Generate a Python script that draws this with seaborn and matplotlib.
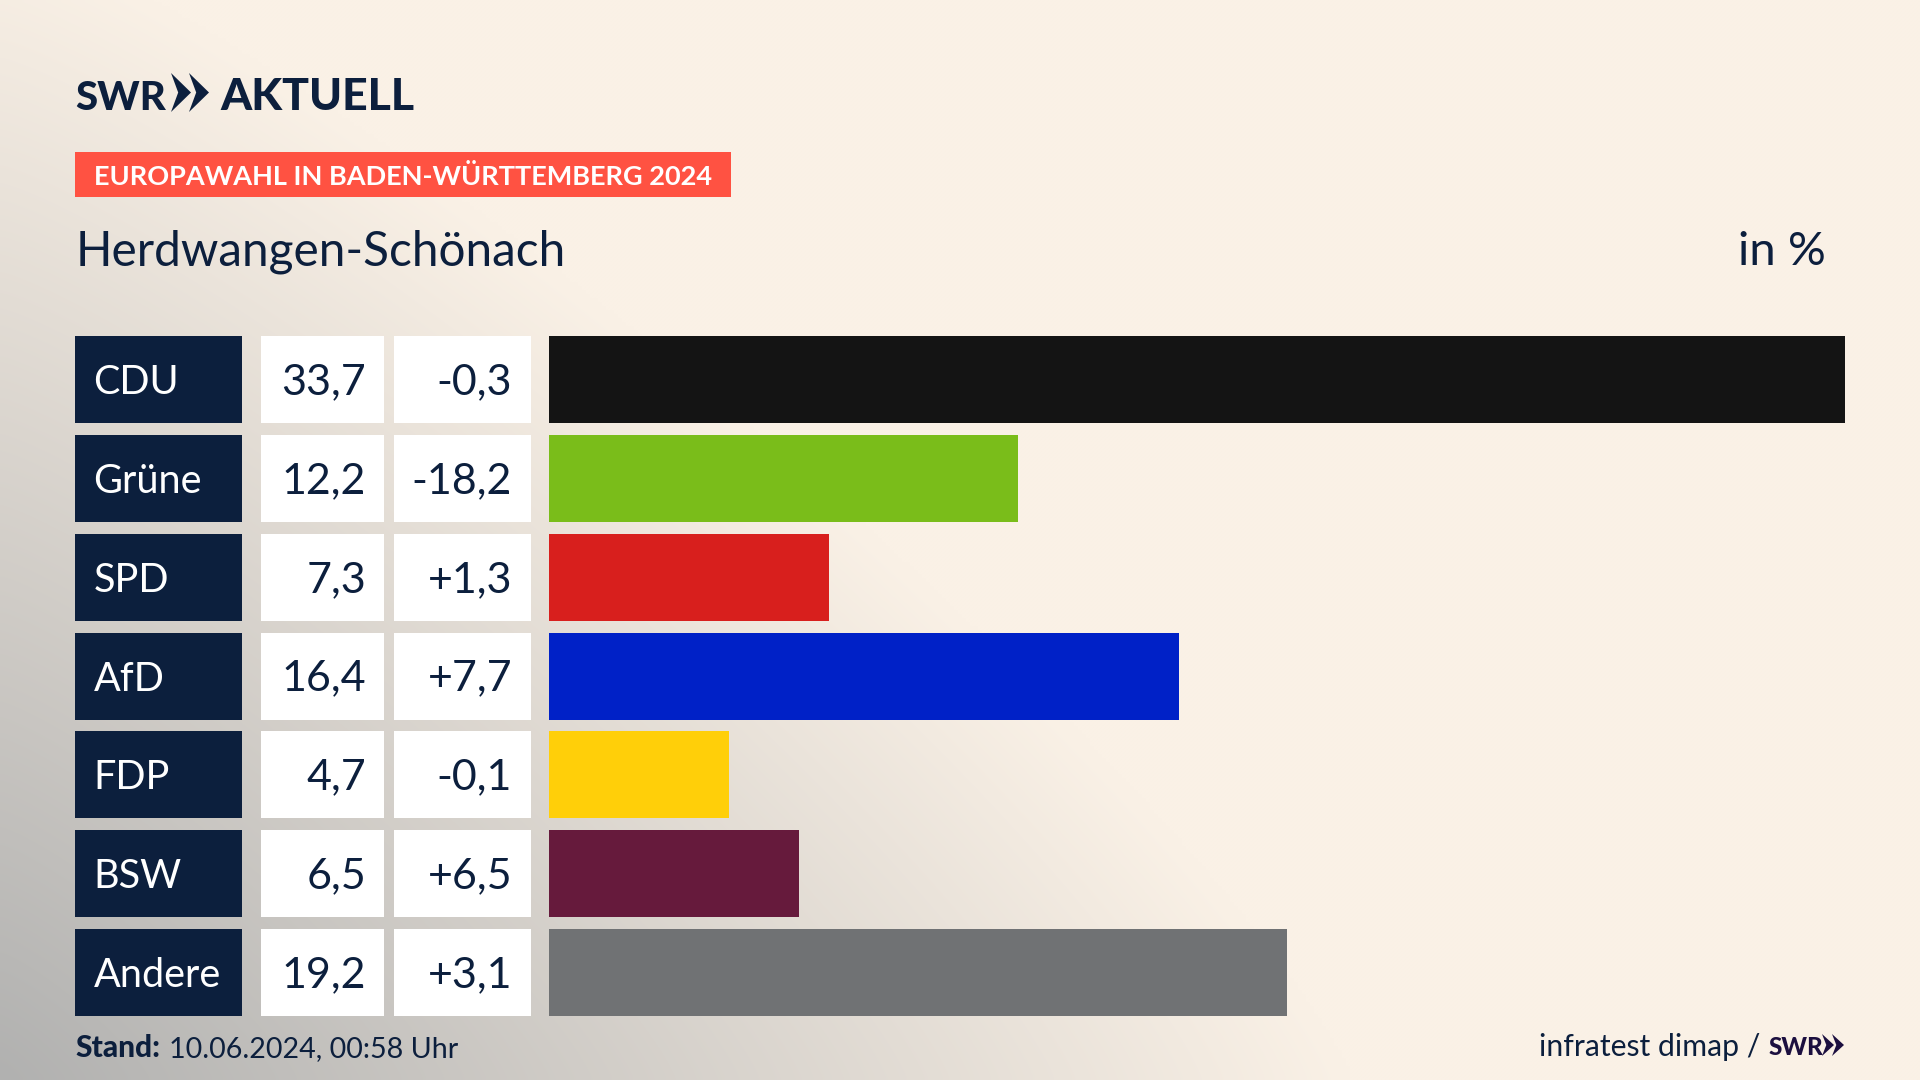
import numpy as np
import pandas as pd
import seaborn as sns
import matplotlib
matplotlib.use("Agg")
import matplotlib.pyplot as plt
from matplotlib.patches import Rectangle, Polygon

parties = ["CDU", "Grüne", "SPD", "AfD", "FDP", "BSW", "Andere"]
shares = [33.7, 12.2, 7.3, 16.4, 4.7, 6.5, 19.2]
changes = [-0.3, -18.2, 1.3, 7.7, -0.1, 6.5, 3.1]
colors = ["#141414", "#7ABD1A", "#D81F1D", "#0021C7", "#FFCF09", "#661A3C", "#707274"]
kicker = "EUROPAWAHL IN BADEN-WÜRTTEMBERG 2024"
title = "Herdwangen-Schönach"
unit = "in %"

NAVY = "#0C1F3D"
W, H = 1920, 1080
sns.set_theme(style="white")
plt.rcParams["font.family"] = ["Lato", "DejaVu Sans"]

fig = plt.figure(figsize=(19.2, 10.8), dpi=100)

# page layer in pixel coordinates
bg = fig.add_axes([0, 0, 1, 1])
bg.set_xlim(0, W); bg.set_ylim(H, 0); bg.axis("off")
xx, yy = np.meshgrid(np.linspace(0, W, 480), np.linspace(0, H, 270))
p = 1.2
t = np.clip(((xx / 1350) ** p + ((H - yy) / 1150) ** p) ** (1 / p), 0, 1)
low = np.array([0xB1, 0xB1, 0xB0]) / 255
high = np.array([0xFA, 0xF1, 0xE6]) / 255
img = low[None, None, :] * (1 - t[..., None]) + high[None, None, :] * t[..., None]
bg.imshow(img, extent=(0, W, H, 0), aspect="auto", interpolation="bilinear", zorder=0)

# row geometry
row_top0, row_pitch, row_h = 336.3, 98.75, 87.0
bar_x0, bar_x1 = 548.5, 1845


def chevrons(x, y0, y1, w, gap, color):
    for k in range(2):
        xs = x + k * gap
        mid = (y0 + y1) / 2
        bg.add_patch(Polygon([(xs, y0), (xs + w * 0.08, y0 + (y1 - y0) * 0.04), (xs + w, mid),
                              (xs + w * 0.08, y1 - (y1 - y0) * 0.04), (xs, y1), (xs + w * 0.36, mid)],
                             closed=True, fc=color, ec="none", zorder=3))


# header
bg.text(75, 110, "SWR", fontsize=29, fontweight="black", color=NAVY, va="baseline", ha="left", zorder=3)
chevrons(171, 73, 112, 20, 18, NAVY)
bg.text(220, 110, "AKTUELL", fontsize=32, fontweight="black", color=NAVY, va="baseline", ha="left", zorder=3)
bg.add_patch(Rectangle((75, 152), 656, 45, fc="#FF5242", ec="none", zorder=2))
bg.text(94, 185, kicker, fontsize=19.5, fontweight="bold", color="white", va="baseline", ha="left", zorder=3)
bg.text(75.5, 265, title, fontsize=34.4, color=NAVY, va="baseline", ha="left", zorder=3)
bg.text(1826, 265, unit, fontsize=34, color=NAVY, va="baseline", ha="right", zorder=3)

# table cells
for i, (party, s, c) in enumerate(zip(parties, shares, changes)):
    y = row_top0 + i * row_pitch
    base = y + row_h / 2 + 14.5
    bg.add_patch(Rectangle((75, y), 167, row_h, fc=NAVY, ec="none", zorder=2))
    bg.add_patch(Rectangle((261, y), 123, row_h, fc="white", ec="none", zorder=2))
    bg.add_patch(Rectangle((394, y), 137, row_h, fc="white", ec="none", zorder=2))
    bg.text(93.5, base, party, fontsize=28.5, color="white", va="baseline", ha="left", zorder=3)
    bg.text(366, base, f"{s:.1f}".replace(".", ","), fontsize=31, color=NAVY, va="baseline", ha="right", zorder=3)
    bg.text(512, base, f"{c:+.1f}".replace(".", ","), fontsize=31, color=NAVY, va="baseline", ha="right", zorder=3)

# footer
bg.text(75, 1057, "Stand:", fontsize=21.5, fontweight="black", color=NAVY, va="baseline", ha="left", zorder=3)
bg.text(169, 1057, "10.06.2024, 00:58 Uhr", fontsize=20.6, color=NAVY, va="baseline", ha="left", zorder=3)
bg.text(1760, 1056, "infratest dimap /", fontsize=21.7, color=NAVY, va="baseline", ha="right", zorder=3)
bg.text(1769, 1055, "SWR", fontsize=17.5, fontweight="black", color="#1C0F3F", va="baseline", ha="left", zorder=3)
chevrons(1822, 1034, 1056, 12, 10, "#1C0F3F")

# bars
ax_top = row_top0 + row_h / 2 - row_pitch / 2
ax_bot = ax_top + row_pitch * len(parties)
ax = fig.add_axes([bar_x0 / W, 1 - ax_bot / H, (bar_x1 - bar_x0) / W, (ax_bot - ax_top) / H])
ax.patch.set_alpha(0)
df = pd.DataFrame({"party": parties, "share": shares})
sns.barplot(data=df, x="share", y="party", hue="party", order=parties, hue_order=parties,
            palette=colors, legend=False, width=row_h / row_pitch, saturation=1,
            linewidth=0, edgecolor="none", ax=ax)
ax.set_xlim(0, max(shares))
ax.set_ylim(len(parties) - 0.5, -0.5)
ax.axis("off")

fig.savefig("out.png", dpi=100)
